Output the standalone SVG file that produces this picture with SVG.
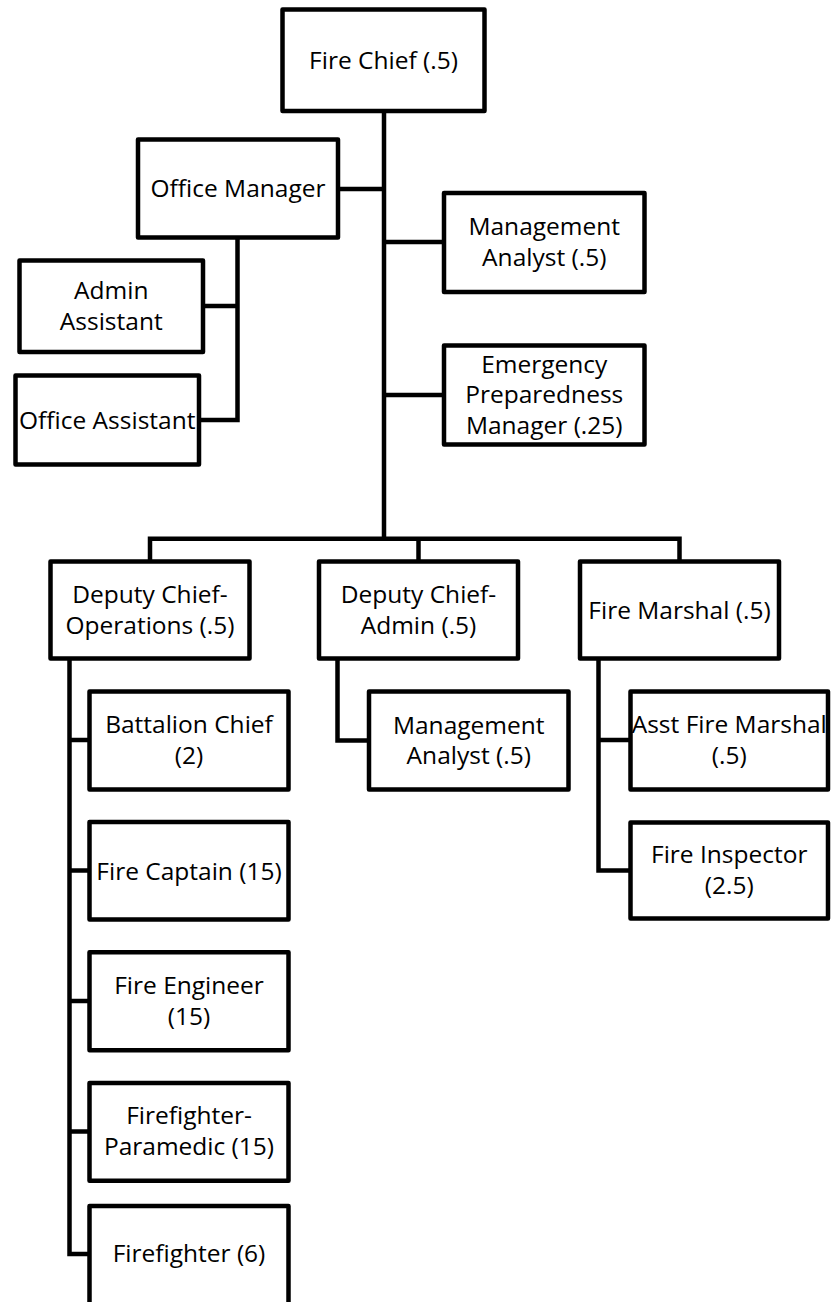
<svg xmlns="http://www.w3.org/2000/svg" width="832" height="1302" viewBox="0 0 832 1302">
  <style>
    .box { fill: #ffffff; stroke: #000000; stroke-width: 4.5; stroke-linejoin: round; }
    .wire { fill: none; stroke: #000000; stroke-width: 4.5; stroke-linejoin: miter; }
    .label { font-family: "Open Sans", "Liberation Sans", sans-serif; font-size: 24.5px; fill: #000000; text-anchor: middle; }
  </style>
  <rect x="0" y="0" width="832" height="1302" fill="#ffffff"/>

  <!-- reporting lines -->
  <g id="connectors">
    <!-- chief trunk and staff branches -->
    <path class="wire" d="M384 111 V539"/>
    <path class="wire" d="M340 189 H384"/>
    <path class="wire" d="M384 242 H444"/>
    <path class="wire" d="M384 395 H444"/>
    <!-- office manager subtree -->
    <path class="wire" d="M237.5 239 V420 H199"/>
    <path class="wire" d="M203 306 H237.5"/>
    <!-- deputy bus -->
    <path class="wire" d="M150 561.5 V538.75 H679.5 V561.5"/>
    <path class="wire" d="M418.5 538.75 V561.5"/>
    <!-- operations subtree -->
    <path class="wire" d="M69.5 659 V1254 H89.5"/>
    <path class="wire" d="M69.5 740 H89.5"/>
    <path class="wire" d="M69.5 870.5 H89.5"/>
    <path class="wire" d="M69.5 1001 H89.5"/>
    <path class="wire" d="M69.5 1131.5 H89.5"/>
    <!-- admin subtree -->
    <path class="wire" d="M337.5 659 V740.5 H369"/>
    <!-- fire marshal subtree -->
    <path class="wire" d="M598.5 659 V870.5 H630.5"/>
    <path class="wire" d="M598.5 740 H630.5"/>
  </g>

  <g id="fire-chief">
    <rect class="box" x="282.5" y="9.5" width="202" height="101.5"/>
    <text class="label" x="383.5" y="69">Fire Chief (.5)</text>
  </g>

  <g id="office-manager">
    <rect class="box" x="138" y="139.5" width="200" height="98"/>
    <text class="label" x="238" y="197">Office Manager</text>
  </g>

  <g id="management-analyst-chief">
    <rect class="box" x="444" y="193" width="200.5" height="99"/>
    <text class="label" x="544.25" y="235">Management</text>
    <text class="label" x="544.25" y="266">Analyst (.5)</text>
  </g>

  <g id="admin-assistant">
    <rect class="box" x="19.5" y="260.5" width="183.5" height="91.5"/>
    <text class="label" x="111.25" y="299">Admin</text>
    <text class="label" x="111.25" y="330">Assistant</text>
  </g>

  <g id="emergency-preparedness-manager">
    <rect class="box" x="444" y="345.5" width="200.5" height="99"/>
    <text class="label" x="544.25" y="372.5">Emergency</text>
    <text class="label" x="544.25" y="403">Preparedness</text>
    <text class="label" x="544.25" y="433.5">Manager (.25)</text>
  </g>

  <g id="office-assistant">
    <rect class="box" x="15.5" y="375.5" width="183.5" height="89"/>
    <text class="label" x="107.25" y="428.5">Office Assistant</text>
  </g>

  <g id="deputy-chief-operations">
    <rect class="box" x="50.5" y="561.5" width="199" height="97"/>
    <text class="label" x="150" y="603">Deputy Chief-</text>
    <text class="label" x="150" y="633.5">Operations (.5)</text>
  </g>

  <g id="deputy-chief-admin">
    <rect class="box" x="319" y="561.5" width="199" height="97"/>
    <text class="label" x="418.5" y="603">Deputy Chief-</text>
    <text class="label" x="418.5" y="633.5">Admin (.5)</text>
  </g>

  <g id="fire-marshal">
    <rect class="box" x="580" y="561.5" width="199" height="97"/>
    <text class="label" x="679.5" y="618.5">Fire Marshal (.5)</text>
  </g>

  <g id="battalion-chief">
    <rect class="box" x="89.5" y="691.5" width="199" height="98"/>
    <text class="label" x="189" y="733">Battalion Chief</text>
    <text class="label" x="189" y="764">(2)</text>
  </g>

  <g id="management-analyst-admin">
    <rect class="box" x="369" y="691.5" width="199.5" height="98"/>
    <text class="label" x="468.75" y="733.5">Management</text>
    <text class="label" x="468.75" y="764">Analyst (.5)</text>
  </g>

  <g id="asst-fire-marshal">
    <rect class="box" x="630.5" y="691.5" width="197.5" height="98"/>
    <text class="label" x="729.25" y="733">Asst Fire Marshal</text>
    <text class="label" x="729.25" y="764">(.5)</text>
  </g>

  <g id="fire-captain">
    <rect class="box" x="89.5" y="822" width="199" height="97.5"/>
    <text class="label" x="189" y="879.5">Fire Captain (15)</text>
  </g>

  <g id="fire-inspector">
    <rect class="box" x="630.5" y="822.5" width="197.5" height="96"/>
    <text class="label" x="729.25" y="863">Fire Inspector</text>
    <text class="label" x="729.25" y="894">(2.5)</text>
  </g>

  <g id="fire-engineer">
    <rect class="box" x="89.5" y="952.25" width="199" height="98"/>
    <text class="label" x="189" y="993.5">Fire Engineer</text>
    <text class="label" x="189" y="1024.5">(15)</text>
  </g>

  <g id="firefighter-paramedic">
    <rect class="box" x="89.5" y="1083" width="199" height="97.75"/>
    <text class="label" x="189" y="1124">Firefighter-</text>
    <text class="label" x="189" y="1155">Paramedic (15)</text>
  </g>

  <g id="firefighter">
    <rect class="box" x="89.5" y="1206" width="199" height="110"/>
    <text class="label" x="189" y="1262">Firefighter (6)</text>
  </g>
</svg>
